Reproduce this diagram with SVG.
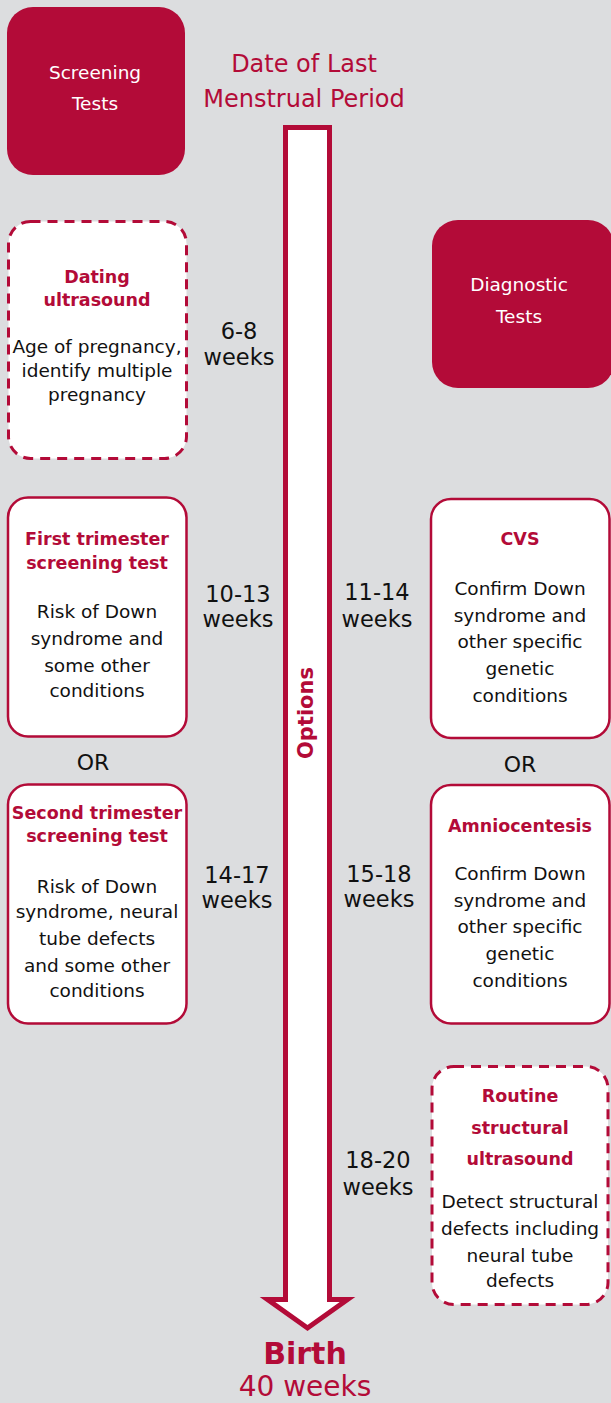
<svg xmlns="http://www.w3.org/2000/svg" width="611" height="1403" viewBox="0 0 611 1403">
<defs>
<style>
text{font-family:"DejaVu Sans","Liberation Sans",sans-serif;text-anchor:middle}
.bg{fill:#dcdddf}
.hdr{fill:#b30b38}
.hdrt{fill:#ffffff;font-size:18.5px}
.box{fill:#ffffff;stroke:#b30b38;stroke-width:2.5}
.dash{fill:#ffffff;stroke:#b30b38;stroke-width:3;stroke-dasharray:10 7}
.ttl{fill:#b30b38;font-weight:bold;font-size:17.5px}
.body{fill:#111111;font-size:18.5px}
.wk{fill:#111111;font-size:22.5px}
.red{fill:#b30b38}
</style>
</defs>
<rect class="bg" x="0" y="0" width="611" height="1403"/>

<g id="connectors">
<path d="M285.5,127.5 H329.5 V1299.5 H347.5 L307.5,1328 L267.5,1299.5 H285.5 Z" fill="#ffffff" stroke="#b30b38" stroke-width="5" stroke-miterlimit="10"/>
<text class="red" x="0" y="0" transform="translate(313,713) rotate(-90)" style="font-weight:bold;font-size:21px">Options</text>
</g>

<g id="lmp">
<text class="red" x="304" y="72" style="font-size:24px">Date of Last</text>
<text class="red" x="304" y="107" style="font-size:24px">Menstrual Period</text>
</g>

<g id="screening-tests">
<rect class="hdr" x="7" y="7" width="178" height="168" rx="26"/>
<text class="hdrt" x="95" y="79">Screening</text>
<text class="hdrt" x="95" y="110">Tests</text>
</g>

<g id="diagnostic-tests">
<rect class="hdr" x="432" y="220" width="182" height="168" rx="26"/>
<text class="hdrt" x="519" y="291">Diagnostic</text>
<text class="hdrt" x="519" y="323">Tests</text>
</g>

<g id="dating-ultrasound">
<rect class="dash" x="8.5" y="221.5" width="178" height="237" rx="22"/>
<text class="ttl" x="97" y="283">Dating</text>
<text class="ttl" x="97" y="306">ultrasound</text>
<text class="body" x="97" y="353">Age of pregnancy,</text>
<text class="body" x="97" y="377">identify multiple</text>
<text class="body" x="97" y="401">pregnancy</text>
</g>
<g id="wk-6-8">
<text class="wk" x="239" y="339">6-8</text>
<text class="wk" x="239" y="365">weeks</text>
</g>

<g id="first-trimester">
<rect class="box" x="8" y="497.5" width="178.5" height="239" rx="20"/>
<text class="ttl" x="97" y="545">First trimester</text>
<text class="ttl" x="97" y="569">screening test</text>
<text class="body" x="97" y="618">Risk of Down</text>
<text class="body" x="97" y="645">syndrome and</text>
<text class="body" x="97" y="672">some other</text>
<text class="body" x="97" y="697">conditions</text>
</g>
<g id="wk-10-13">
<text class="wk" x="238" y="602">10-13</text>
<text class="wk" x="238" y="627">weeks</text>
</g>

<text class="wk" x="93" y="770" style="font-size:22px">OR</text>

<g id="second-trimester">
<rect class="box" x="8" y="784.5" width="178.5" height="239" rx="20"/>
<text class="ttl" x="97" y="819">Second trimester</text>
<text class="ttl" x="97" y="842">screening test</text>
<text class="body" x="97" y="893">Risk of Down</text>
<text class="body" x="97" y="918">syndrome, neural</text>
<text class="body" x="97" y="945">tube defects</text>
<text class="body" x="97" y="972">and some other</text>
<text class="body" x="97" y="997">conditions</text>
</g>
<g id="wk-14-17">
<text class="wk" x="237" y="883">14-17</text>
<text class="wk" x="237" y="908">weeks</text>
</g>

<g id="cvs">
<rect class="box" x="431" y="499" width="178.5" height="239" rx="20"/>
<text class="ttl" x="520" y="545">CVS</text>
<text class="body" x="520" y="595">Confirm Down</text>
<text class="body" x="520" y="622">syndrome and</text>
<text class="body" x="520" y="648">other specific</text>
<text class="body" x="520" y="675">genetic</text>
<text class="body" x="520" y="702">conditions</text>
</g>
<g id="wk-11-14">
<text class="wk" x="377" y="600">11-14</text>
<text class="wk" x="377" y="627">weeks</text>
</g>

<text class="wk" x="520" y="772" style="font-size:22px">OR</text>

<g id="amniocentesis">
<rect class="box" x="431" y="785" width="178.5" height="238.5" rx="20"/>
<text class="ttl" x="520" y="832">Amniocentesis</text>
<text class="body" x="520" y="880">Confirm Down</text>
<text class="body" x="520" y="907">syndrome and</text>
<text class="body" x="520" y="933">other specific</text>
<text class="body" x="520" y="960">genetic</text>
<text class="body" x="520" y="987">conditions</text>
</g>
<g id="wk-15-18">
<text class="wk" x="379" y="882">15-18</text>
<text class="wk" x="379" y="907">weeks</text>
</g>

<g id="routine-ultrasound">
<rect class="dash" x="432" y="1066.5" width="176" height="238" rx="22"/>
<text class="ttl" x="520" y="1102">Routine</text>
<text class="ttl" x="520" y="1134">structural</text>
<text class="ttl" x="520" y="1165">ultrasound</text>
<text class="body" x="520" y="1208">Detect structural</text>
<text class="body" x="520" y="1235">defects including</text>
<text class="body" x="520" y="1262">neural tube</text>
<text class="body" x="520" y="1287">defects</text>
</g>
<g id="wk-18-20">
<text class="wk" x="378" y="1168">18-20</text>
<text class="wk" x="378" y="1195">weeks</text>
</g>

<g id="birth">
<text class="red" x="305" y="1364" style="font-weight:bold;font-size:30px">Birth</text>
<text class="red" x="305" y="1396" style="font-size:28px">40 weeks</text>
</g>
</svg>
